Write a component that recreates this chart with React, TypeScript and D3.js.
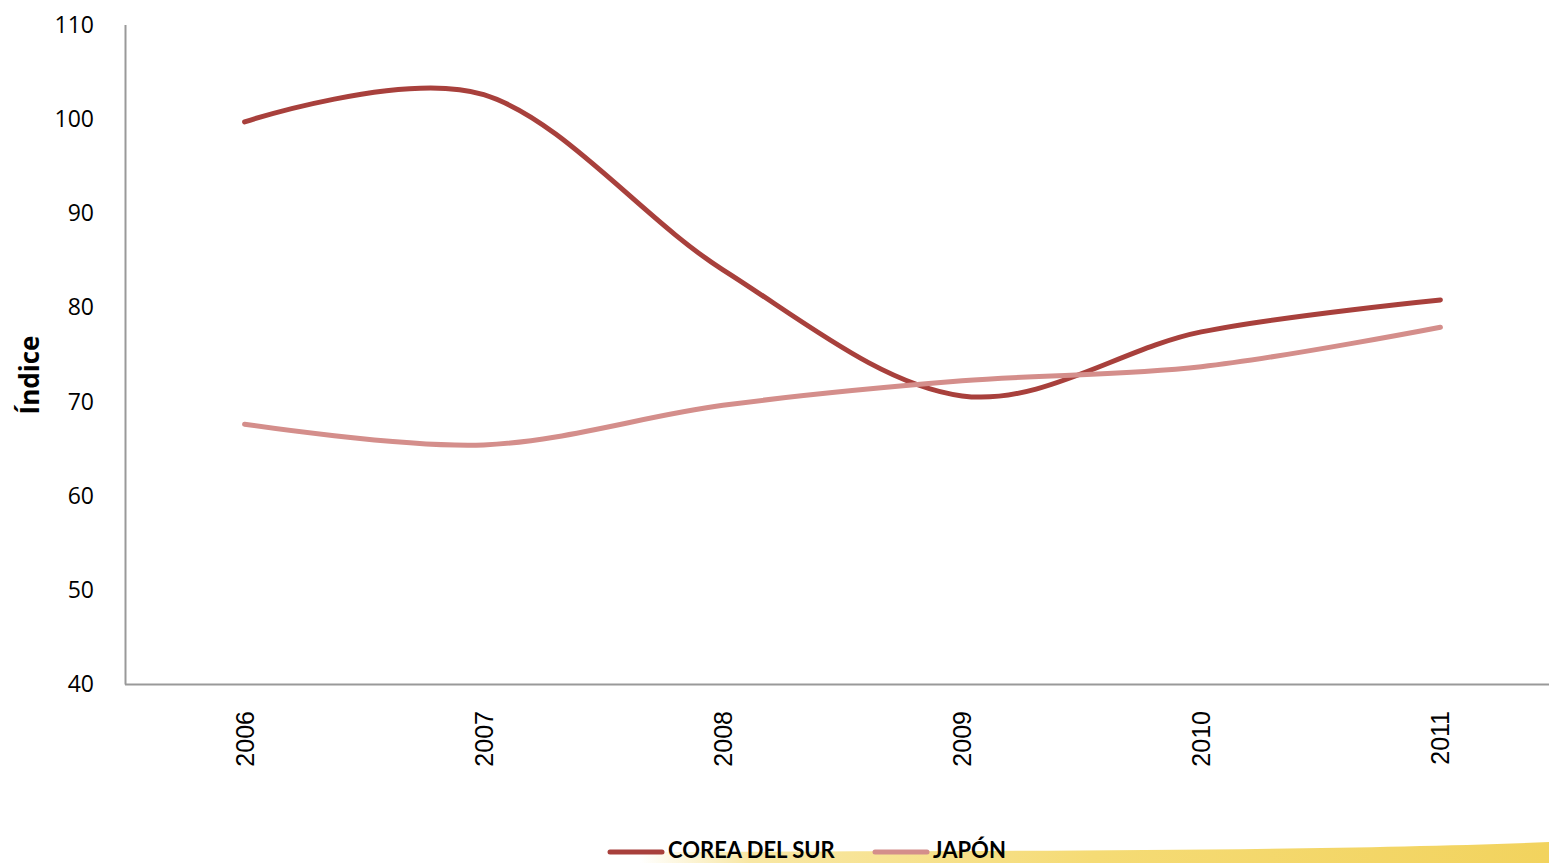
import React from "react";
import * as d3 from "d3";

const years = ["2006", "2007", "2008", "2009", "2010", "2011"];
const corea = [99.7, 102.6, 84.0, 70.6, 77.4, 80.8];
const japon = [67.6, 65.4, 69.6, 72.2, 73.7, 77.9];
const yTicks = [40, 50, 60, 70, 80, 90, 100, 110];
const seriesNames = ["COREA DEL SUR", "JAPÓN"];
const seriesColors = ["#A8403C", "#D48E8B"];

const W = 1549;
const H = 863;

export default function App() {
  const x = d3.scalePoint<string>().domain(years).range([125, 1560]).padding(0.5);
  const y = d3.scaleLinear().domain([40, 110]).range([684, 25]);
  const line = d3
    .line<number>()
    .x((_, i) => x(years[i]) as number)
    .y((d) => y(d))
    .curve(d3.curveCatmullRom.alpha(0));

  const data = [corea, japon];

  return (
    <svg
      width={W}
      height={H}
      style={{ position: "absolute", left: 0, top: 0, background: "#fff" }}
    >
      <defs>
        <linearGradient id="band" x1="0" x2="1" y1="0" y2="0">
          <stop offset="0" stopColor="#F7E394" stopOpacity="0" />
          <stop offset="0.12" stopColor="#F7E394" stopOpacity="0.85" />
          <stop offset="0.5" stopColor="#F5DB75" stopOpacity="1" />
          <stop offset="1" stopColor="#F2D35E" stopOpacity="1" />
        </linearGradient>
      </defs>
      <path
        d={`M640,852 C900,851 1300,852 1549,842 L1549,863 L640,863 Z`}
        fill="url(#band)"
      />

      {/* axes */}
      <line x1={125.5} x2={125.5} y1={25} y2={684.5} stroke="#999" strokeWidth={2} />
      <line x1={125} x2={W} y1={684.5} y2={684.5} stroke="#999" strokeWidth={2} />

      {yTicks.map((t) => (
        <text
          key={t}
          x={94}
          y={y(t)}
          dy="0.35em"
          textAnchor="end"
          fontFamily="'Open Sans', 'Noto Sans', sans-serif"
          fontSize={23}
          fill="#000"
        >
          {t}
        </text>
      ))}

      {years.map((yr) => (
        <text
          key={yr}
          transform={`translate(${(x(yr) as number) + 9},711) rotate(-90)`}
          textAnchor="end"
          fontFamily="'Liberation Sans', Arial, sans-serif"
          fontSize={25}
          fill="#000"
        >
          {yr}
        </text>
      ))}

      <text
        transform={`translate(39,375) rotate(-90)`}
        textAnchor="middle"
        fontFamily="'Open Sans', 'Noto Sans', sans-serif"
        fontWeight="bold"
        fontSize={26}
        fill="#000"
      >
        Índice
      </text>

      {data.map((s, i) => (
        <path
          key={i}
          d={line(s) || ""}
          fill="none"
          stroke={seriesColors[i]}
          strokeWidth={5}
          strokeLinecap="round"
        />
      ))}

      {/* legend */}
      {seriesNames.map((n, i) => {
        const lx = i === 0 ? 608 : 873;
        return (
          <g key={n}>
            <line
              x1={lx + 2}
              x2={lx + 54}
              y1={852}
              y2={852}
              stroke={seriesColors[i]}
              strokeWidth={5}
              strokeLinecap="round"
            />
            <text
              x={lx + 60}
              y={858}
              fontFamily="Lato, 'Open Sans', sans-serif"
              fontWeight="bold"
              fontSize={22}
              fill="#000"
            >
              {n}
            </text>
          </g>
        );
      })}
    </svg>
  );
}
